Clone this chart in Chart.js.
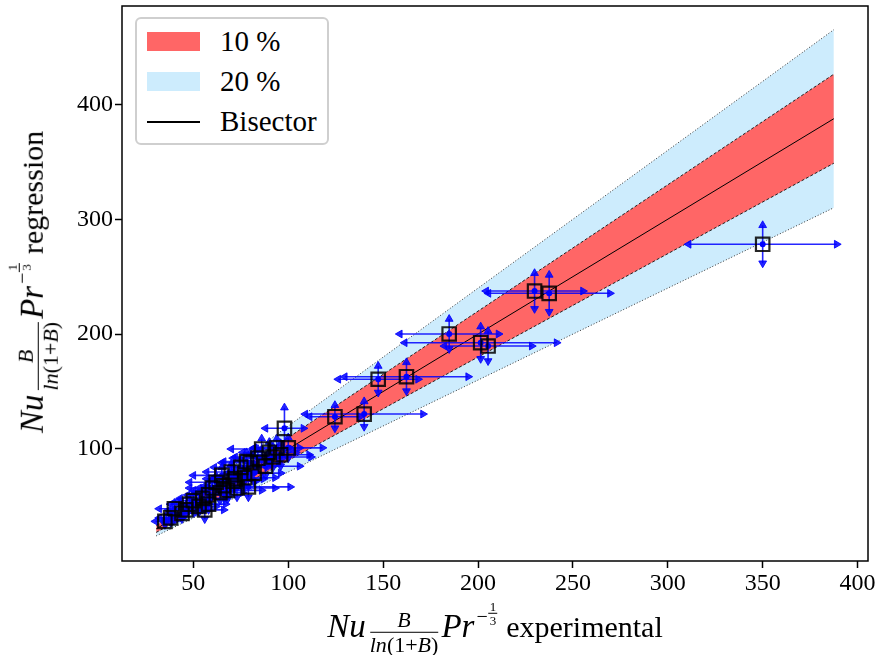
<!DOCTYPE html>
<html>
<head>
<meta charset="utf-8">
<script src="https://cdn.jsdelivr.net/npm/chart.js@4.4.1/dist/chart.umd.min.js"></script>
<style>
html,body{margin:0;padding:0;background:#fff;}
#wrap{position:relative;width:883px;height:655px;font-family:'Liberation Serif',serif;color:#000;overflow:hidden;}
#c{position:absolute;left:0;top:0;}
.lbl{position:absolute;white-space:nowrap;font-size:30px;line-height:1;font-family:'Liberation Serif',serif;}
.m{font-style:italic;font-size:33px;}
.mi{font-style:italic;}
.frac{display:inline-block;text-align:center;font-size:22px;line-height:1;vertical-align:-0.7em;margin:0 3px 0 4px;}
.frac .num{display:block;border-bottom:1.4px solid #000;padding:0 2px 1px;}
.frac .den{display:block;padding-top:1px;}
.sup{display:inline-block;font-size:20px;vertical-align:0.7em;margin-left:2px;margin-right:9px;}
.sfrac{display:inline-block;text-align:center;font-size:13px;line-height:1;vertical-align:-0.15em;margin-left:1px;}
.sfrac .num{display:block;border-bottom:1px solid #000;padding:0 1px;}
.sfrac .den{display:block;}
#legend{position:absolute;left:135px;top:17px;width:190px;height:124px;border:2px solid #cfcfcf;border-radius:6px;background:#fff;}
.sw{position:absolute;left:147px;width:53px;height:19px;}
.lt{position:absolute;left:220px;font-size:29px;line-height:29px;white-space:nowrap;font-family:'Liberation Serif',serif;}
</style>
</head>
<body>
<div id="wrap">
<canvas id="c" width="883" height="655"></canvas>
<div id="legend"></div>
<div class="sw" style="top:32px;background:#ff6666;"></div>
<div class="sw" style="top:72px;background:#cdecfd;"></div>
<div class="sw" style="top:121px;height:1.5px;background:#000;"></div>
<div class="lt" style="top:27px;">10 %</div>
<div class="lt" style="top:67px;">20 %</div>
<div class="lt" style="top:107px;">Bisector</div>
<div class="lbl" id="xl" style="left:495px;top:628px;transform:translate(-50%,-50%);"><span class="m">Nu</span><span class="frac"><span class="num mi">B</span><span class="den"><span class="mi">ln</span>(1+<span class="mi">B</span>)</span></span><span class="m">Pr</span><span class="sup">−<span class="sfrac"><span class="num">1</span><span class="den">3</span></span></span>experimental</div>
<div class="lbl" id="yl" style="left:34px;top:282px;transform:translate(-50%,-50%) rotate(-90deg);"><span class="m">Nu</span><span class="frac"><span class="num mi">B</span><span class="den"><span class="mi">ln</span>(1+<span class="mi">B</span>)</span></span><span class="m">Pr</span><span class="sup">−<span class="sfrac"><span class="num">1</span><span class="den">3</span></span></span>regression</div>
</div>
<script>
// ---- data ----
const expX   = [35,38,40,44,46,48,50,53,55,56,58,58,60,62,64,65,66,68,70,71,72,73,75,77,78,79,80,82,84,86,88,90,92,94,96,98,100,124.6,140,147.4,162.3,184.8,201.4,205.3,229.8,237.5,350];
const regY   = [37,40,48,44,47,52,55,50,57,47,60,52,66,71,62,77,68,64,80,72,74,66,84,75,89,67,88,79,92,100,85,97,93,101,95,118,101,128.1,130.4,160.7,162.9,200.1,192.5,189.6,237.5,235.5,278.2];
const expErr = [5,6,8,7,9,10,8,9,12,10,11,9,12,14,12,15,10,18,13,12,15,20,14,16,12,22,15,14,13,16,18,14,20,12,15,10,18,13.3,31,21,32.5,26,40,23,25.5,32,39];
const regErr = [3,4,5,5,4,5,6,5,6,8,6,5,7,6,7,7,6,8,7,6,8,8,7,8,8,9,9,8,8,9,8,9,9,8,10,18,9,10,11,11.5,12.5,13,14,13,15.5,16,16.5];
const bandX    = [30.4, 387.5];
const bisector = [30.4, 387.5];
const upper10  = [33.44, 426.25];
const lower10  = [27.36, 348.75];
const upper20  = [36.48, 465.0];
const lower20  = [24.32, 310.0];
const xTicksStep = 50, yTicksStep = 100;

const pts = (ys) => bandX.map((x,i)=>({x, y: ys[i]}));
const hBar = [], vBar = [], centers = [];
expX.forEach((x,i)=>{
  const y = regY[i];
  hBar.push({x: x-expErr[i], y}, {x: x+expErr[i], y}, {x:null, y:null});
  vBar.push({x, y: y-regErr[i]}, {x, y: y+regErr[i]}, {x:null, y:null});
  centers.push({x, y});
});

const frame = {
  id: 'frame',
  afterDatasetsDraw(chart){
    const {ctx, chartArea:a} = chart;
    ctx.save(); ctx.strokeStyle = '#000'; ctx.lineWidth = 1.5;
    ctx.strokeRect(a.left, a.top, a.right-a.left, a.bottom-a.top);
    ctx.restore();
  }
};
const noPad = (s) => { s.paddingTop = 0; s.paddingBottom = 0; s.paddingLeft = 0; s.paddingRight = 0; };

Chart.defaults.font.family = "'Liberation Serif', serif";
const blue = 'rgba(0,0,255,0.85)';
const tickFont = {family: "'Liberation Serif', serif", size: 24};

new Chart(document.getElementById('c'), {
  type: 'line',
  data: {
    datasets: [
      {label:'10 % upper', data: pts(upper10), order: 6, borderColor:'#222', borderWidth:1, borderDash:[3,2], pointRadius:0, fill: 1, backgroundColor:'#ff6666', tension:0},
      {label:'10 % lower', data: pts(lower10), order: 5, borderColor:'#222', borderWidth:1, borderDash:[3,2], pointRadius:0, fill:false, tension:0},
      {label:'20 % upper', data: pts(upper20), order: 8, borderColor:'#333', borderWidth:1, borderDash:[1,2], pointRadius:0, fill: 3, backgroundColor:'#cdecfd', tension:0},
      {label:'20 % lower', data: pts(lower20), order: 7, borderColor:'#333', borderWidth:1, borderDash:[1,2], pointRadius:0, fill:false, tension:0},
      {label:'Bisector', data: pts(bisector), order: 4, borderColor:'#000', borderWidth:1, pointRadius:0, fill:false, tension:0},
      {label:'xerr', data: hBar, order: 3, showLine:true, spanGaps:false, borderColor: blue, borderWidth:1.6, fill:false,
        pointStyle:'triangle', pointRadius:4.5, pointBorderWidth:1, pointBackgroundColor: blue, pointBorderColor: blue,
        pointRotation: (c)=> (c.dataIndex % 3 === 0 ? -90 : 90)},
      {label:'yerr', data: vBar, order: 2, showLine:true, spanGaps:false, borderColor: blue, borderWidth:1.6, fill:false,
        pointStyle:'triangle', pointRadius:4.5, pointBorderWidth:1, pointBackgroundColor: blue, pointBorderColor: blue,
        pointRotation: (c)=> (c.dataIndex % 3 === 0 ? 180 : 0)},
      {label:'centers', data: centers, order: 1, showLine:false, pointStyle:'circle', pointRadius:3, pointBorderWidth:0, pointBackgroundColor:'#0000ff'},
      {label:'points', data: centers, order: 0, showLine:false, pointStyle:'rect', pointRadius:9.5, pointBorderWidth:2.2, pointBorderColor:'rgba(0,0,0,0.85)', pointBackgroundColor:'rgba(0,0,0,0)'}
    ]
  },
  options: {
    responsive: false,
    animation: false,
    events: [],
    layout: {autoPadding: false, padding: {left:0, top:6, right:15, bottom:0}},
    plugins: {legend:{display:false}, tooltip:{enabled:false}},
    scales: {
      x: {type:'linear', min:12.4, max:405.5,
        ticks:{stepSize:xTicksStep, includeBounds:false, color:'#000', font:tickFont, padding:1, maxRotation:0, autoSkip:false},
        grid:{drawOnChartArea:false, drawTicks:true, tickLength:7, tickWidth:1.5, tickColor:'#000'},
        border:{display:false},
        afterFit(s){ s.height = 94; noPad(s); }},
      y: {type:'linear', min:2.5, max:485.6,
        ticks:{stepSize:yTicksStep, includeBounds:false, color:'#000', font:tickFont, padding:2, autoSkip:false},
        grid:{drawOnChartArea:false, drawTicks:true, tickLength:7, tickWidth:1.5, tickColor:'#000'},
        border:{display:false},
        afterFit(s){ s.width = 122; noPad(s); }}
    }
  },
  plugins: [frame]
});
</script>
</body>
</html>
